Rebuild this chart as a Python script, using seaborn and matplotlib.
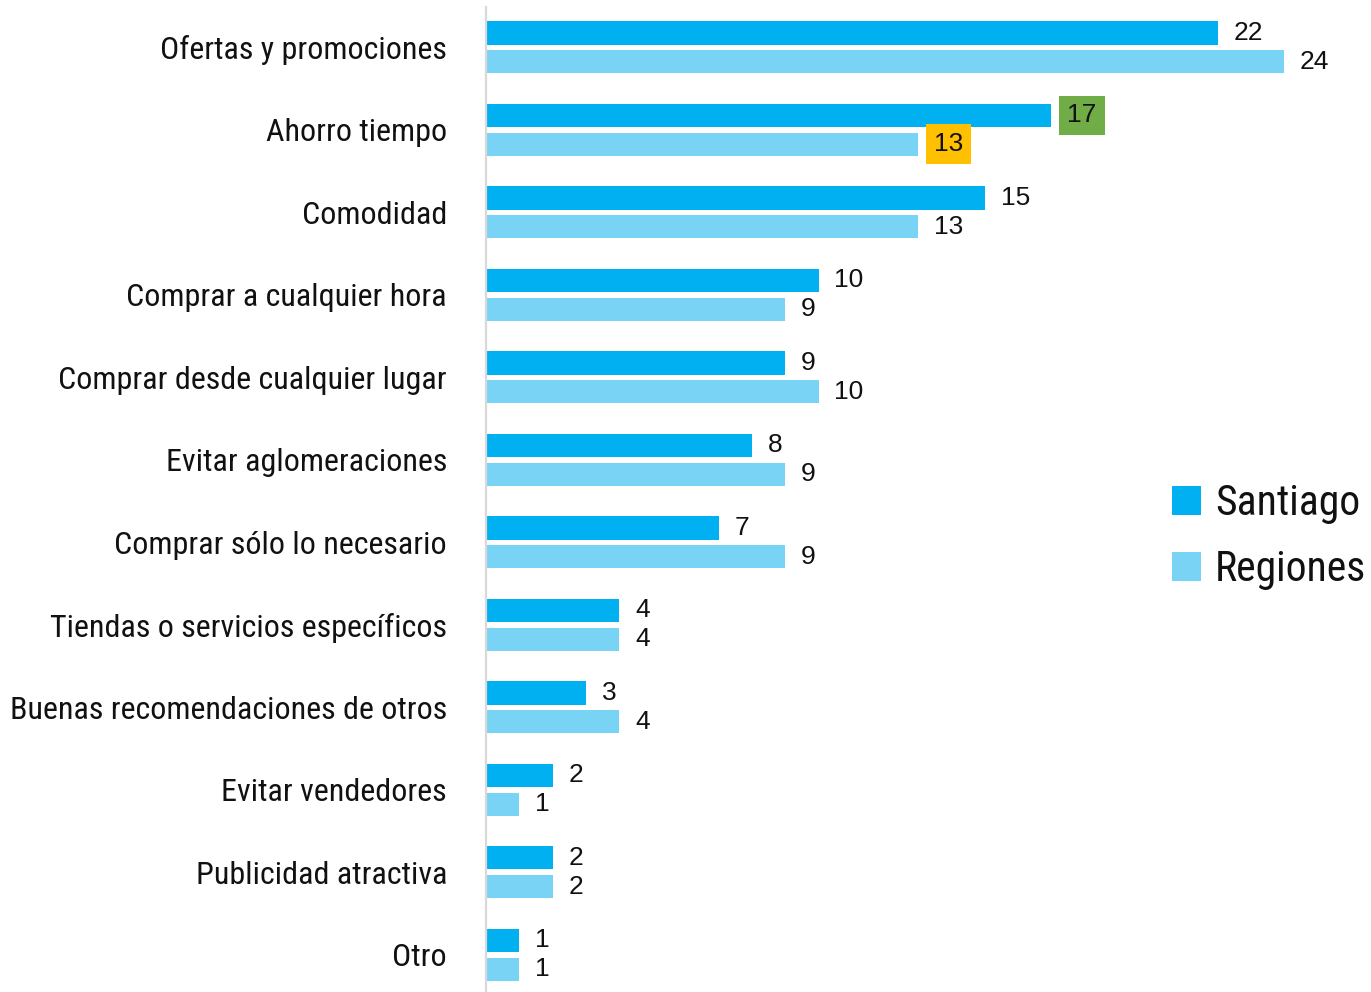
import matplotlib
matplotlib.use("Agg")
import matplotlib.pyplot as plt
from matplotlib import font_manager
from matplotlib.patches import Patch
import seaborn as sns
import pandas as pd

categories = [
    "Ofertas y promociones", "Ahorro tiempo", "Comodidad",
    "Comprar a cualquier hora", "Comprar desde cualquier lugar",
    "Evitar aglomeraciones", "Comprar sólo lo necesario",
    "Tiendas o servicios específicos", "Buenas recomendaciones de otros",
    "Evitar vendedores", "Publicidad atractiva", "Otro",
]
santiago = [22, 17, 15, 10, 9, 8, 7, 4, 3, 2, 2, 1]
regiones = [24, 13, 13, 9, 10, 9, 9, 4, 4, 1, 2, 1]
series_names = ["Santiago", "Regiones"]
series_colors = ["#00B0F0", "#79D3F5"]
highlight_index = 1
highlight_colors = ["#70AD47", "#FFC000"]

sns.set_theme(style="white")

available = {f.name for f in font_manager.fontManager.ttflist}
narrow = "DejaVu Sans"
for cand in ["Liberation Sans Narrow", "DejaVu Sans Condensed", "Roboto Condensed",
             "Open Sans Condensed", "Noto Sans Condensed"]:
    if cand in available:
        narrow = cand
        break
num_font = "Liberation Sans" if "Liberation Sans" in available else "DejaVu Sans"
plt.rcParams["font.family"] = [num_font, "DejaVu Sans"]

df = pd.DataFrame({
    "categoria": categories * 2,
    "valor": santiago + regiones,
    "serie": [series_names[0]] * len(categories) + [series_names[1]] * len(categories),
})

W, H = 1371, 992
fig = plt.figure(figsize=(W / 100, H / 100), dpi=100)
left = 486 / W
ax = fig.add_axes([left, 0, 1 - left, (H - 7) / H])

sns.barplot(data=df, y="categoria", x="valor", hue="serie", orient="h",
            palette=dict(zip(series_names, series_colors)), width=0.7, gap=0.2,
            linewidth=0, saturation=1, errorbar=None, legend=False, ax=ax)

px_per_unit = 33.25
ax.set_xlim(0, (W - 486) / px_per_unit)
ax.set_ylim(11.45, -0.49)

for ci, cont in enumerate(ax.containers):
    texts = ax.bar_label(cont, padding=11.5, fontsize=19, color="#111111",
                         family=num_font)
    t = texts[highlight_index]
    t.set_bbox(dict(facecolor=highlight_colors[ci], edgecolor="none",
                    boxstyle="square,pad=0.3"))

for s in ["top", "right", "bottom"]:
    ax.spines[s].set_visible(False)
ax.spines["left"].set_color("#D9D9D9")
ax.spines["left"].set_linewidth(1.6)
ax.set_xticks([])
ax.set_xlabel("")
ax.set_ylabel("")
ax.tick_params(axis="y", length=0, pad=28)
for lab in ax.get_yticklabels():
    lab.set_fontfamily(narrow)
    lab.set_fontsize(23)
    lab.set_color("#111111")

handles = [Patch(facecolor=c, edgecolor="none") for c in series_colors]
fig.legend(handles, series_names, loc="center left",
           bbox_to_anchor=(1172 / W, 1 - 537 / H), frameon=False,
           prop={"family": narrow, "size": 30}, handlelength=0.69,
           handleheight=0.69, handletextpad=0.34, labelspacing=0.6,
           borderpad=0, borderaxespad=0, labelcolor="#111111")

fig.savefig("out.png", dpi=100)
